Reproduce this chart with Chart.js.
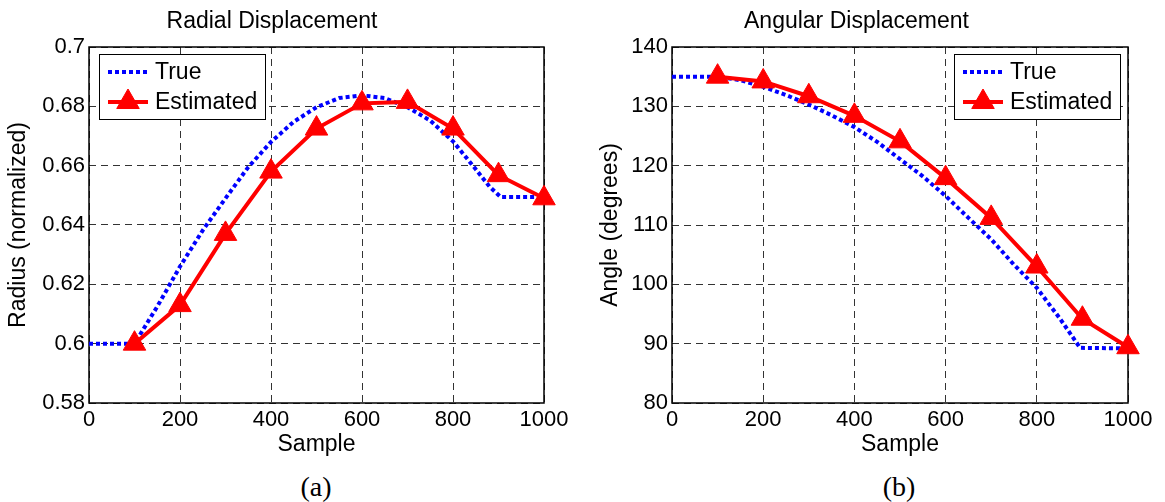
<!DOCTYPE html>
<html>
<head>
<meta charset="utf-8">
<script src="https://cdn.jsdelivr.net/npm/chart.js@4/dist/chart.umd.min.js"></script>
<style>
  html, body { margin: 0; padding: 0; background: #fff; }
  body { width: 1165px; height: 502px; position: relative; overflow: hidden; }
  .panel { position: absolute; top: 0; width: 580px; height: 460px; }
  .caption {
    position: absolute; top: 472px; width: 60px; text-align: center;
    font-family: "Liberation Serif", "Times New Roman", serif; font-size: 28px; line-height: 30px; color: #000;
  }
</style>
</head>
<body>
<div class="panel" style="left:0"><canvas id="radialChart" width="580" height="460"></canvas></div>
<div class="panel" style="left:585px"><canvas id="angleChart" width="580" height="460"></canvas></div>
<div class="caption" style="left:286px">(a)</div>
<div class="caption" style="left:869px">(b)</div>

<script>
// axis ticks
const sampleTicks = [0, 200, 400, 600, 800, 1000];
const radiusTicks = [0.58, 0.6, 0.62, 0.64, 0.66, 0.68, 0.7];
const angleTicks = [80, 90, 100, 110, 120, 130, 140];

// estimated points (triangles)
const estSamples = [100, 200, 300, 400, 500, 600, 700, 800, 900, 1000];
const radiusEst = [0.600, 0.613, 0.637, 0.658, 0.6725, 0.681, 0.6815, 0.6725, 0.6568, 0.649];
const angleEst = [135.0, 134.2, 131.7, 128.4, 124.1, 117.9, 111.2, 103.0, 94.2, 89.4];

// true curves
const radiusTrueSamples = [0, 100, 150, 200, 250, 300, 350, 400, 450, 500, 550, 600, 650, 700, 750, 800, 850, 880, 905, 1000];
const radiusTrue = [0.6, 0.6, 0.6125, 0.626, 0.6382, 0.649, 0.6595, 0.668, 0.6748, 0.6797, 0.6828, 0.6837, 0.6828, 0.6797, 0.6752, 0.6682, 0.6588, 0.653, 0.6494, 0.6494];
const angleTrueSamples = [0, 100, 150, 200, 250, 300, 350, 400, 450, 500, 550, 600, 650, 700, 750, 800, 850, 895, 1000];
const angleTrue = [135, 135, 134.4, 133.3, 131.9, 130.3, 128.5, 126.5, 124.0, 121.1, 118.2, 114.9, 111.2, 107.6, 103.3, 99.4, 94.3, 89.3, 89.2];

Chart.defaults.font.family = '"Liberation Sans", Arial, Helvetica, sans-serif';
Chart.defaults.color = "#000";

function toPoints(xs, ys) {
  return xs.map((x, i) => ({ x: x, y: ys[i] }));
}

// black box around the plot area
const frame = {
  id: "frame",
  beforeDatasetsDraw(chart) {
    const { ctx, chartArea: a } = chart;
    ctx.save();
    ctx.strokeStyle = "#000";
    ctx.lineWidth = 1.5;
    ctx.strokeRect(a.left, a.top, a.right - a.left, a.bottom - a.top);
    ctx.restore();
  }
};

// legend box drawn inside the plot
const boxLegend = {
  id: "boxLegend",
  afterDraw(chart, args, opts) {
    const { ctx, chartArea: a } = chart;
    const w = 166, h = 65;
    const x0 = opts.side === "right" ? a.right - 8 - w : a.left + 10;
    const y0 = a.top + 7;
    ctx.save();
    ctx.fillStyle = "#fff";
    ctx.fillRect(x0, y0, w, h);
    ctx.strokeStyle = "#000";
    ctx.lineWidth = 1;
    ctx.strokeRect(x0 + 0.5, y0 + 0.5, w, h);
    chart.data.datasets.forEach((ds, i) => {
      const cy = y0 + 18 + i * 30;
      ctx.strokeStyle = ds.borderColor;
      ctx.lineWidth = ds.borderWidth;
      ctx.lineCap = "butt";
      ctx.setLineDash(ds.borderDash || []);
      ctx.beginPath();
      ctx.moveTo(x0 + 9, cy);
      ctx.lineTo(x0 + 49, cy);
      ctx.stroke();
      ctx.setLineDash([]);
      if (ds.pointRadius) {
        ctx.fillStyle = ds.pointBackgroundColor;
        ctx.lineWidth = 1;
        Chart.helpers.drawPoint(ctx, { pointStyle: ds.pointStyle, radius: ds.pointRadius, borderWidth: 1, rotation: 0 }, x0 + 29, cy);
      }
      ctx.fillStyle = "#000";
      ctx.font = '23px "Liberation Sans", Arial, sans-serif';
      ctx.textAlign = "left";
      ctx.textBaseline = "middle";
      ctx.fillText(ds.label, x0 + 56, cy + 1);
    });
    ctx.restore();
  }
};

function makeChart(id, cfg) {
  const ctx = document.getElementById(id).getContext("2d");
  return new Chart(ctx, {
    type: "line",
    data: {
      datasets: [
        {
          label: "True",
          data: toPoints(cfg.trueX, cfg.trueY),
          borderColor: "#0000ff",
          borderWidth: 4,
          borderDash: [4, 3],
          borderCapStyle: "butt",
          pointRadius: 0,
          tension: 0,
          fill: false,
          clip: false,
          order: 1
        },
        {
          label: "Estimated",
          data: toPoints(estSamples, cfg.estY),
          borderColor: "#ff0000",
          backgroundColor: "#ff0000",
          borderWidth: 4,
          pointStyle: "triangle",
          pointRadius: 13,
          pointHoverRadius: 13,
          pointBorderWidth: 1,
          pointBackgroundColor: "#ff0000",
          pointBorderColor: "#ff0000",
          tension: 0,
          fill: false,
          clip: false,
          order: 0
        }
      ]
    },
    options: {
      responsive: false,
      animation: false,
      devicePixelRatio: 1,
      events: [],
      layout: { padding: { left: 0, right: cfg.padRight, top: 0, bottom: 0 } },
      plugins: {
        legend: { display: false },
        tooltip: { enabled: false },
        title: {
          display: true,
          text: cfg.title,
          color: "#000",
          font: { size: 23, weight: "normal" },
          padding: { top: 7.5, bottom: 11.9 }
        },
        boxLegend: { side: cfg.legendSide }
      },
      scales: {
        x: {
          type: "linear",
          min: 0,
          max: 1000,
          afterBuildTicks: s => { s.ticks = sampleTicks.map(v => ({ value: v })); },
          afterFit: s => { s.height = 460 - 403; },
          ticks: { font: { size: 22 }, padding: 4, autoSkip: false, maxRotation: 0, color: "#000", callback: v => String(v) },
          grid: { color: "#333", lineWidth: 1, drawTicks: false },
          border: { display: false, dash: [7, 5] },
          title: { display: true, text: "Sample", font: { size: 23 }, color: "#000", padding: { top: 0, bottom: 2 } }
        },
        y: {
          type: "linear",
          min: cfg.yTicks[0],
          max: cfg.yTicks[cfg.yTicks.length - 1],
          afterBuildTicks: s => { s.ticks = cfg.yTicks.map(v => ({ value: v })); },
          afterFit: s => { s.width = cfg.yWidth; },
          ticks: {
            font: { size: 22 }, padding: 4, autoSkip: false, color: "#000",
            callback: v => String(Number(v.toFixed(2)))
          },
          grid: { color: "#333", lineWidth: 1, drawTicks: false },
          border: { display: false, dash: [7, 5] },
          title: { display: true, text: cfg.yTitle, font: { size: 23 }, color: "#000", padding: { top: cfg.yTitlePad, bottom: 0 } }
        }
      }
    },
    plugins: [frame, boxLegend]
  });
}

makeChart("radialChart", {
  title: "Radial Displacement",
  yTitle: "Radius (normalized)",
  yTicks: radiusTicks,
  trueX: radiusTrueSamples,
  trueY: radiusTrue,
  estY: radiusEst,
  yWidth: 89,
  yTitlePad: 5,
  padRight: 36,
  legendSide: "left"
});

makeChart("angleChart", {
  title: "Angular Displacement",
  yTitle: "Angle (degrees)",
  yTicks: angleTicks,
  trueX: angleTrueSamples,
  trueY: angleTrue,
  estY: angleEst,
  yWidth: 87,
  yTitlePad: 12,
  padRight: 37,
  legendSide: "right"
});
</script>
</body>
</html>
